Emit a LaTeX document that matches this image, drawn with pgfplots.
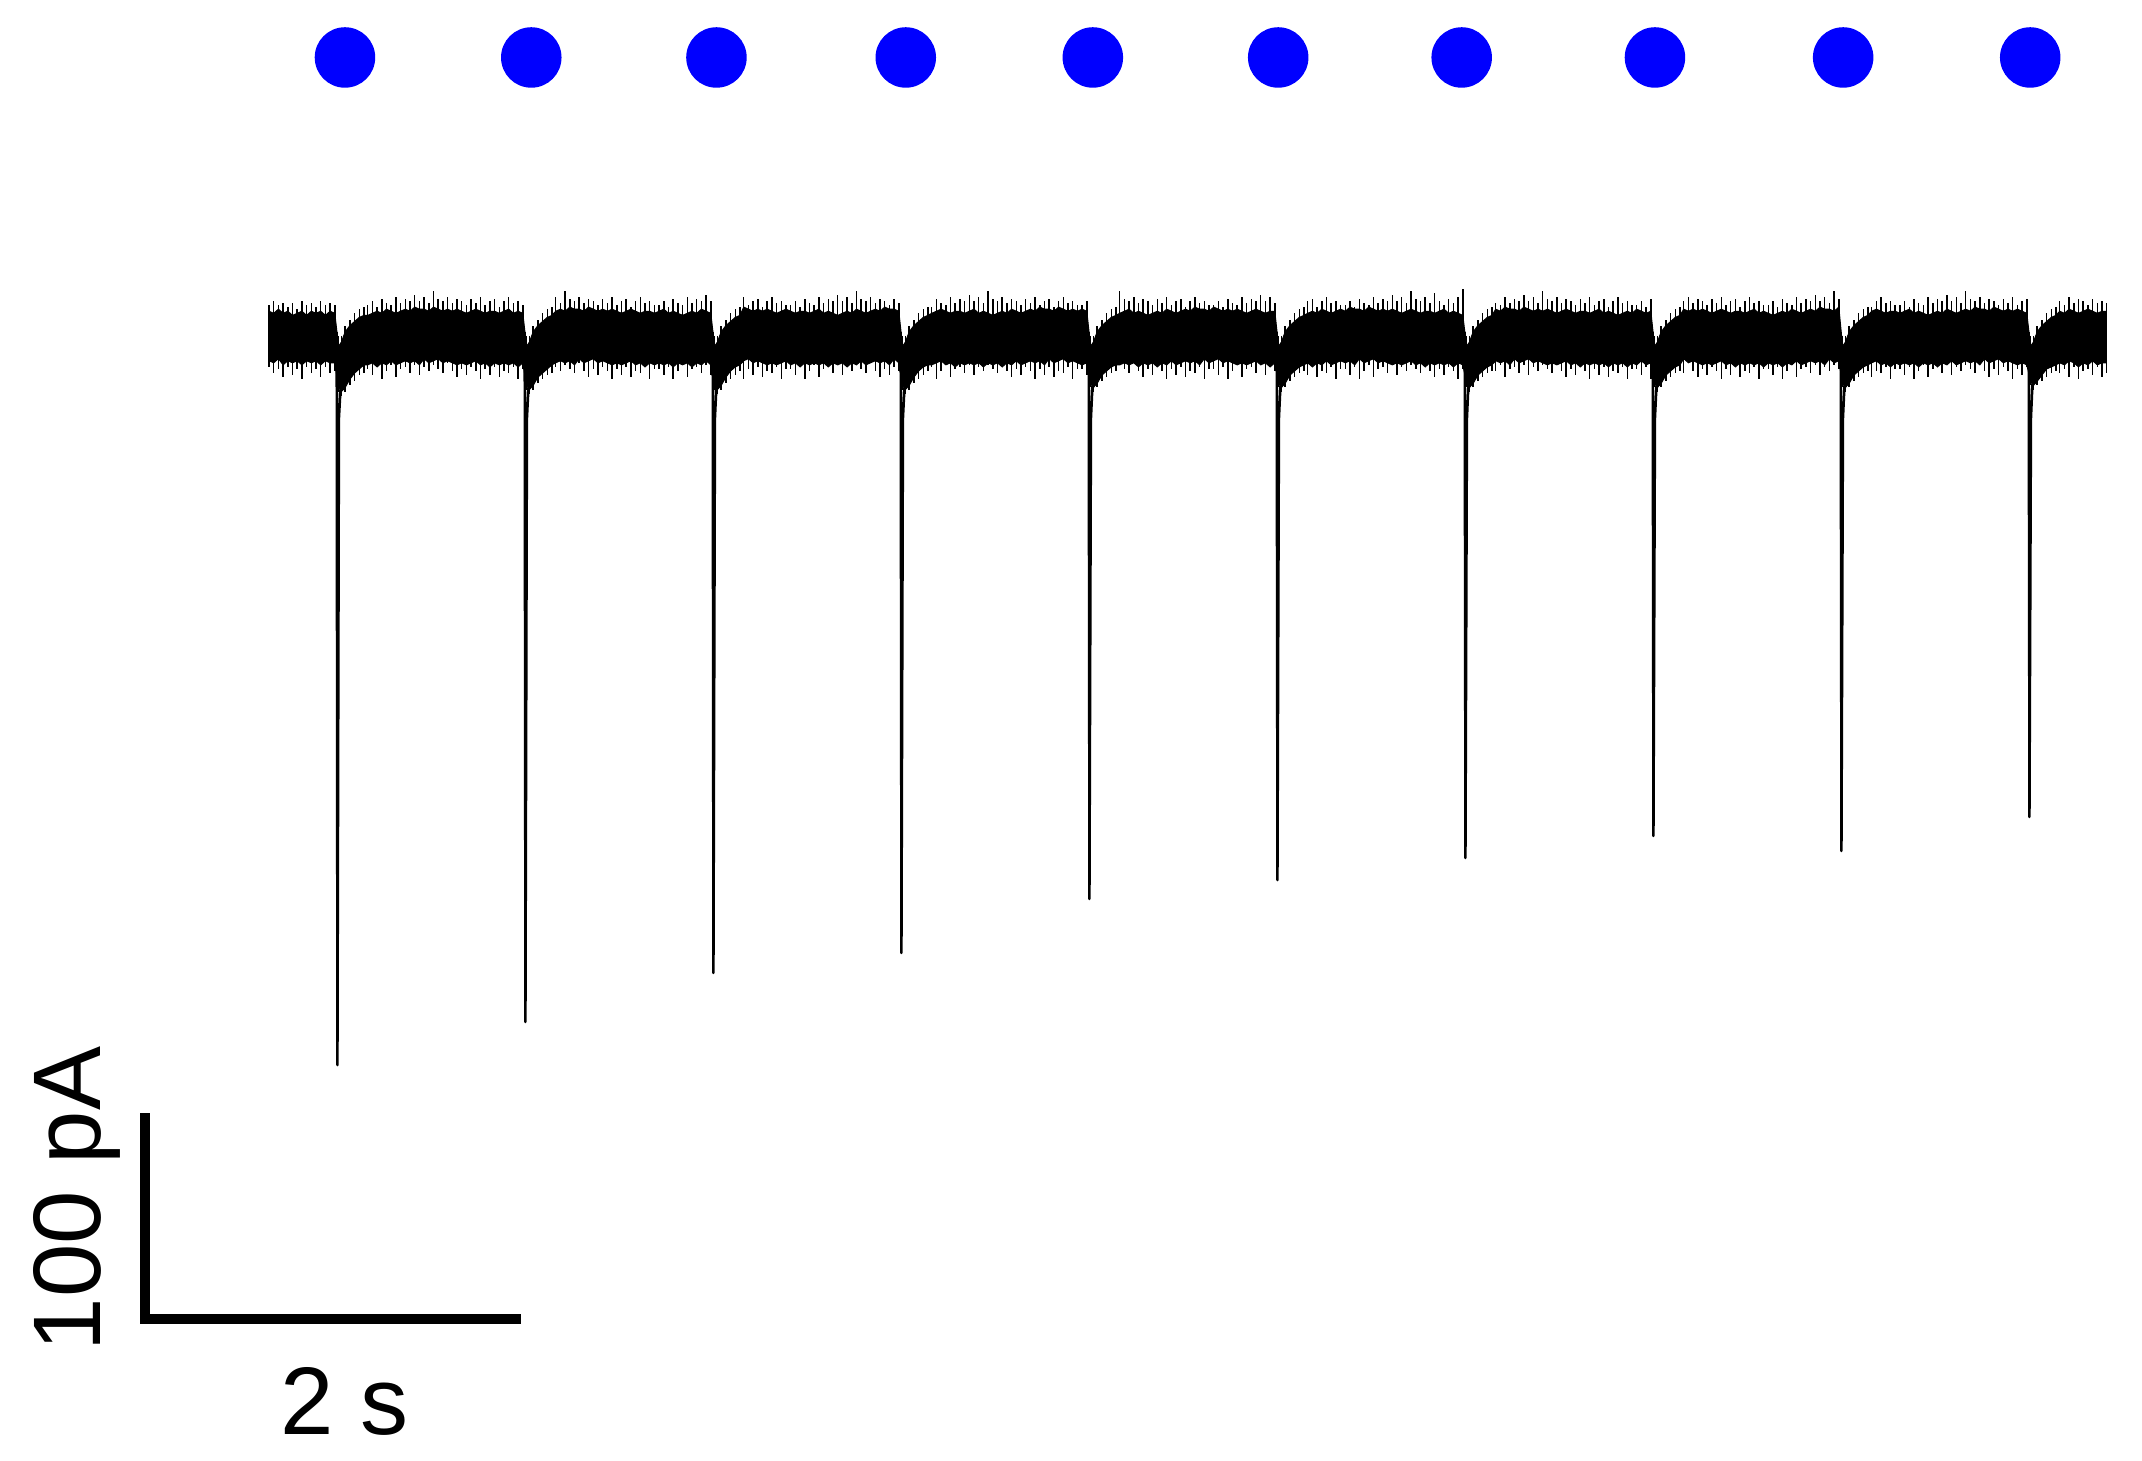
\documentclass[border=0pt]{standalone}
\usepackage{pgfplots}
\usepackage{pgfplotstable}
\usepgfplotslibrary{fillbetween}
\pgfplotsset{compat=1.18}
\usepackage{fontspec}
\setmainfont{Liberation Sans}
\definecolor{dotblue}{RGB}{0,0,255}

% recorded current: t (s); dense band upper/lower edge u, l (pA); noise needles n, m (pA)
\pgfplotstableread{
t u l n m
0.000 12 -12 15 -15
0.025 11 -13 17 -18
0.050 13 -11 15 -16
0.075 11 -14 16 -20
0.100 12 -12 14 -15
0.125 10 -13 16 -19
0.150 11 -12 13 -16
0.175 12 -14 17 -21
0.200 10 -12 15 -15
0.225 12 -13 16 -18
0.250 11 -12 14 -16
0.275 12 -14 17 -20
0.300 10 -12 15 -15
0.325 12 -13 16 -18
0.350 11 -13 15 -17
0.370 -5 -25 -3 -27
0.385 -3 -27 0 -29
0.405 2 -25 5 -27
0.430 5 -21 8 -24
0.455 7 -18 11 -22
0.480 9 -16 13 -19
0.505 10 -14 14 -18
0.525 10 -14 15 -16
0.550 11 -13 17 -19
0.575 12 -15 14 -15
0.600 11 -13 18 -21
0.625 13 -14 16 -17
0.650 12 -12 15 -14
0.675 11 -14 19 -20
0.700 12 -13 16 -16
0.725 13 -12 18 -15
0.750 12 -13 17 -18
0.775 14 -12 20 -14
0.800 13 -14 17 -19
0.825 13 -11 19 -15
0.850 12 -13 16 -17
0.875 14 -12 22 -14
0.900 13 -11 18 -16
0.925 12 -13 17 -18
0.950 13 -12 19 -13
0.975 12 -13 16 -17
1.000 13 -14 18 -20
1.025 12 -13 17 -16
1.050 11 -14 15 -19
1.075 12 -13 18 -15
1.100 13 -12 16 -17
1.125 12 -14 19 -21
1.150 11 -13 15 -16
1.175 12 -15 17 -19
1.200 12 -13 18 -15
1.225 11 -14 14 -20
1.250 12 -13 17 -17
1.275 13 -14 19 -18
1.300 11 -13 16 -15
1.325 12 -15 17 -21
1.350 11 -13 15 -16
1.370 -5 -24 -3 -26
1.385 -3 -26 0 -28
1.405 2 -24 5 -26
1.430 5 -20 8 -23
1.455 7 -18 11 -21
1.480 9 -16 13 -19
1.505 10 -14 14 -18
1.525 12 -13 19 -15
1.550 13 -12 16 -17
1.575 12 -13 22 -14
1.600 14 -12 18 -16
1.625 13 -14 17 -18
1.650 13 -11 19 -13
1.675 12 -13 16 -17
1.700 14 -12 18 -20
1.725 13 -11 17 -16
1.750 12 -13 15 -19
1.775 13 -12 18 -15
1.800 12 -13 16 -17
1.825 13 -14 19 -21
1.850 12 -13 15 -16
1.875 11 -14 17 -19
1.900 12 -13 18 -15
1.925 13 -12 14 -20
1.950 12 -14 17 -17
1.975 11 -13 19 -18
2.000 12 -15 16 -15
2.025 12 -13 17 -21
2.050 11 -14 15 -16
2.075 12 -13 15 -16
2.100 13 -14 17 -19
2.125 11 -13 14 -15
2.150 12 -15 18 -21
2.175 11 -13 16 -17
2.200 10 -14 15 -14
2.225 11 -13 19 -20
2.250 12 -15 16 -16
2.275 11 -13 18 -15
2.300 13 -14 17 -18
2.325 12 -12 20 -14
2.350 11 -14 17 -19
2.370 -5 -24 -3 -26
2.385 -3 -26 0 -28
2.405 2 -24 5 -26
2.430 5 -20 8 -23
2.455 7 -17 11 -21
2.480 9 -15 13 -19
2.505 10 -14 14 -17
2.525 14 -12 19 -21
2.550 13 -11 15 -16
2.575 12 -13 17 -19
2.600 13 -12 18 -15
2.625 12 -13 14 -20
2.650 13 -14 17 -17
2.675 12 -13 19 -18
2.700 11 -14 16 -15
2.725 12 -13 17 -21
2.750 13 -12 15 -16
2.775 12 -14 15 -16
2.800 11 -13 17 -19
2.825 12 -15 14 -15
2.850 12 -13 18 -21
2.875 11 -14 16 -17
2.900 12 -13 15 -14
2.925 13 -14 19 -20
2.950 11 -13 16 -16
2.975 12 -15 18 -15
3.000 11 -13 17 -18
3.025 10 -14 20 -14
3.050 11 -13 17 -19
3.075 12 -15 19 -15
3.100 11 -13 16 -17
3.125 13 -14 22 -14
3.150 12 -12 18 -16
3.175 11 -14 17 -18
3.200 12 -13 19 -13
3.225 13 -12 16 -17
3.250 12 -13 18 -20
3.275 14 -12 17 -16
3.300 13 -14 15 -19
3.325 13 -11 18 -15
3.350 12 -13 16 -17
3.370 -5 -24 -3 -26
3.385 -3 -26 0 -28
3.405 2 -24 5 -26
3.430 5 -20 8 -23
3.455 7 -17 11 -21
3.480 9 -15 13 -19
3.505 10 -14 14 -17
3.525 11 -14 14 -15
3.550 12 -13 18 -21
3.575 13 -12 16 -17
3.600 12 -14 15 -14
3.625 11 -13 19 -20
3.650 12 -15 16 -16
3.675 12 -13 18 -15
3.700 11 -14 17 -18
3.725 12 -13 20 -14
3.750 13 -14 17 -19
3.775 11 -13 19 -15
3.800 12 -15 16 -17
3.825 11 -13 22 -14
3.850 10 -14 18 -16
3.875 11 -13 17 -18
3.900 12 -15 19 -13
3.925 11 -13 16 -17
3.950 13 -14 18 -20
3.975 12 -12 17 -16
4.000 11 -14 15 -19
4.025 12 -13 18 -15
4.050 13 -12 16 -17
4.075 12 -13 19 -21
4.100 14 -12 15 -16
4.125 13 -14 17 -19
4.150 13 -11 18 -15
4.175 12 -13 14 -20
4.200 14 -12 17 -17
4.225 13 -11 19 -18
4.250 12 -13 16 -15
4.275 13 -12 17 -21
4.300 12 -13 15 -16
4.325 13 -14 15 -16
4.350 12 -13 17 -19
4.370 -5 -23 -3 -25
4.385 -3 -25 0 -27
4.405 2 -23 5 -25
4.430 5 -19 8 -22
4.455 7 -17 11 -20
4.480 9 -15 13 -18
4.505 10 -14 14 -17
4.525 11 -14 22 -14
4.550 12 -13 18 -16
4.575 13 -14 17 -18
4.600 11 -13 19 -13
4.625 12 -15 16 -17
4.650 11 -13 18 -20
4.675 10 -14 17 -16
4.700 11 -13 15 -19
4.725 12 -15 18 -15
4.750 11 -13 16 -17
4.775 13 -14 19 -21
4.800 12 -12 15 -16
4.825 11 -14 17 -19
4.850 12 -13 18 -15
4.875 13 -12 14 -20
4.900 12 -13 17 -17
4.925 14 -12 19 -18
4.950 13 -14 16 -15
4.975 13 -11 17 -21
5.000 12 -13 15 -16
5.025 14 -12 15 -16
5.050 13 -11 17 -19
5.075 12 -13 14 -15
5.100 13 -12 18 -21
5.125 12 -13 16 -17
5.150 13 -14 15 -14
5.175 12 -13 19 -20
5.200 11 -14 16 -16
5.225 12 -13 18 -15
5.250 13 -12 17 -18
5.275 12 -14 20 -14
5.300 11 -13 17 -19
5.325 12 -15 19 -15
5.350 12 -13 16 -17
5.370 -5 -23 -3 -25
5.385 -3 -25 0 -27
5.405 2 -23 5 -25
5.430 5 -19 8 -22
5.455 7 -17 11 -20
5.480 9 -15 13 -18
5.505 10 -14 14 -17
5.525 11 -13 17 -19
5.550 12 -15 18 -15
5.575 11 -13 14 -20
5.600 13 -14 17 -17
5.625 12 -12 19 -18
5.650 11 -14 16 -15
5.675 12 -13 17 -21
5.700 13 -12 15 -16
5.725 12 -13 15 -16
5.750 14 -12 17 -19
5.775 13 -14 14 -15
5.800 13 -11 18 -21
5.825 12 -13 16 -17
5.850 14 -12 15 -14
5.875 13 -11 19 -20
5.900 12 -13 16 -16
5.925 13 -12 18 -15
5.950 12 -13 17 -18
5.975 13 -14 20 -14
6.000 12 -13 17 -19
6.025 11 -14 19 -15
6.050 12 -13 16 -17
6.075 13 -12 22 -14
6.100 12 -14 18 -16
6.125 11 -13 17 -18
6.150 12 -15 19 -13
6.175 12 -13 16 -17
6.200 11 -14 21 -20
6.225 12 -13 17 -16
6.250 13 -14 15 -19
6.275 11 -13 18 -15
6.300 12 -15 16 -17
6.325 11 -13 19 -21
6.350 10 -14 23 -16
6.370 -5 -23 -3 -25
6.385 -3 -25 0 -27
6.405 2 -23 5 -25
6.430 5 -19 8 -22
6.455 7 -17 11 -20
6.480 9 -15 13 -18
6.505 10 -14 14 -17
6.525 13 -12 16 -17
6.550 12 -13 15 -14
6.575 14 -12 19 -20
6.600 13 -14 16 -16
6.625 13 -11 18 -15
6.650 12 -13 17 -18
6.675 14 -12 20 -14
6.700 13 -11 17 -19
6.725 12 -13 19 -15
6.750 13 -12 16 -17
6.775 12 -13 22 -14
6.800 13 -14 18 -16
6.825 12 -13 17 -18
6.850 11 -14 19 -13
6.875 12 -13 16 -17
6.900 13 -12 18 -20
6.925 12 -14 17 -16
6.950 11 -13 15 -19
6.975 12 -15 18 -15
7.000 12 -13 16 -17
7.025 11 -14 19 -21
7.050 12 -13 15 -16
7.075 13 -14 17 -19
7.100 11 -13 18 -15
7.125 12 -15 14 -20
7.150 11 -13 17 -17
7.175 10 -14 19 -18
7.200 11 -13 16 -15
7.225 12 -15 17 -21
7.250 11 -13 15 -16
7.275 13 -14 15 -16
7.300 12 -12 17 -19
7.325 11 -14 14 -15
7.350 12 -13 18 -21
7.370 -5 -23 -3 -25
7.385 -3 -25 0 -27
7.405 2 -23 5 -25
7.430 5 -19 8 -22
7.455 7 -17 11 -20
7.480 9 -15 13 -18
7.505 10 -14 14 -17
7.525 13 -11 17 -18
7.550 12 -13 19 -13
7.575 13 -12 16 -17
7.600 12 -13 18 -20
7.625 13 -14 17 -16
7.650 12 -13 15 -19
7.675 11 -14 18 -15
7.700 12 -13 16 -17
7.725 13 -12 19 -21
7.750 12 -14 15 -16
7.775 11 -13 17 -19
7.800 12 -15 18 -15
7.825 12 -13 14 -20
7.850 11 -14 17 -17
7.875 12 -13 19 -18
7.900 13 -14 16 -15
7.925 11 -13 17 -21
7.950 12 -15 15 -16
7.975 11 -13 15 -16
8.000 10 -14 17 -19
8.025 11 -13 14 -15
8.050 12 -15 18 -21
8.075 11 -13 16 -17
8.100 13 -14 15 -14
8.125 12 -12 19 -20
8.150 11 -14 16 -16
8.175 12 -13 18 -15
8.200 13 -12 17 -18
8.225 12 -13 20 -14
8.250 14 -12 17 -19
8.275 13 -14 19 -15
8.300 13 -11 16 -17
8.325 12 -13 22 -14
8.350 14 -12 18 -16
8.370 -5 -23 -3 -25
8.385 -3 -25 0 -27
8.405 2 -23 5 -25
8.430 5 -19 8 -22
8.455 7 -17 11 -20
8.480 9 -15 13 -18
8.505 10 -14 14 -17
8.525 12 -13 14 -20
8.550 13 -12 17 -17
8.575 12 -14 19 -18
8.600 11 -13 16 -15
8.625 12 -15 17 -21
8.650 12 -13 15 -16
8.675 11 -14 15 -16
8.700 12 -13 17 -19
8.725 13 -14 14 -15
8.750 11 -13 18 -21
8.775 12 -15 16 -17
8.800 11 -13 15 -14
8.825 10 -14 19 -20
8.850 11 -13 16 -16
8.875 12 -15 18 -15
8.900 11 -13 17 -18
8.925 13 -14 20 -14
8.950 12 -12 17 -19
8.975 11 -14 19 -15
9.000 12 -13 16 -17
9.025 13 -12 22 -14
9.050 12 -13 18 -16
9.075 14 -12 17 -18
9.100 13 -14 19 -13
9.125 13 -11 16 -17
9.150 12 -13 18 -20
9.175 14 -12 17 -16
9.200 13 -11 15 -19
9.225 12 -13 18 -15
9.250 13 -12 16 -17
9.275 12 -13 19 -21
9.300 13 -14 15 -16
9.325 12 -13 17 -19
9.350 11 -14 18 -15
9.370 -5 -22 -3 -24
9.385 -3 -24 0 -26
9.405 2 -22 5 -24
9.430 5 -19 8 -22
9.455 7 -16 11 -20
9.480 9 -15 13 -18
9.505 10 -14 14 -17
9.525 12 -13 17 -18
9.550 11 -14 15 -16
9.575 13 -12 19 -20
9.600 12 -13 16 -15
9.625 11 -15 18 -21
9.650 12 -13 17 -17
9.675 13 -14 15 -16
9.700 12 -12 18 -19
9.725 11 -14 16 -15
9.750 12 -13 17 -20
9.775 12 -13 16 -18
}\trace

\begin{document}
\begin{tikzpicture}
\begin{axis}[
  scale only axis, width=428.4pt, height=292pt,
  xmin=-1.4309, xmax=9.9628, ymin=-545.63, ymax=163.11,
  hide axis, clip=false,
]
\path (rel axis cs:0,0) rectangle (rel axis cs:1,1);

% dense noise band
\addplot[black, line width=0.2pt, name path=U] table[x=t, y=u] {\trace};
\addplot[black, line width=0.2pt, name path=L] table[x=t, y=l] {\trace};
\addplot[black] fill between[of=U and L];
% noise needles
\addplot[ycomb, black, line width=0.3pt, mark=none] table[x=t, y=n] {\trace};
\addplot[ycomb, black, line width=0.3pt, mark=none] table[x=t, y=m] {\trace};

% evoked currents
\addplot[black, line width=0.5pt, line join=round] coordinates {(0.360,2) (0.364,-353.9) (0.372,-40) (0.380,-26)};
\addplot[black, line width=0.5pt, line join=round] coordinates {(1.360,2) (1.364,-333.0) (1.372,-40) (1.380,-25)};
\addplot[black, line width=0.5pt, line join=round] coordinates {(2.360,2) (2.364,-309.2) (2.372,-40) (2.380,-24)};
\addplot[black, line width=0.5pt, line join=round] coordinates {(3.360,2) (3.364,-299.5) (3.372,-40) (3.380,-25)};
\addplot[black, line width=0.5pt, line join=round] coordinates {(4.360,2) (4.364,-273.3) (4.372,-40) (4.380,-24)};
\addplot[black, line width=0.5pt, line join=round] coordinates {(5.360,2) (5.364,-264.1) (5.372,-40) (5.380,-24)};
\addplot[black, line width=0.5pt, line join=round] coordinates {(6.360,2) (6.364,-253.4) (6.372,-40) (6.380,-23)};
\addplot[black, line width=0.5pt, line join=round] coordinates {(7.360,2) (7.364,-242.7) (7.372,-40) (7.380,-24)};
\addplot[black, line width=0.5pt, line join=round] coordinates {(8.360,2) (8.364,-250.0) (8.372,-40) (8.380,-24)};
\addplot[black, line width=0.5pt, line join=round] coordinates {(9.360,2) (9.364,-233.5) (9.372,-40) (9.380,-23)};

% light stimuli
\addplot[only marks, mark=*, mark size=5.85pt, draw=dotblue, fill=dotblue]
  coordinates {(0.404,135.2) (1.395,135.2) (2.380,135.2) (3.387,135.2) (4.382,135.2)
               (5.368,135.2) (6.344,135.2) (7.372,135.2) (8.373,135.2) (9.368,135.2)};

% scale bar
\addplot[black, line width=2pt, line join=miter] coordinates {(-0.6596,-377.2) (-0.6596,-477.2) (1.338,-477.2)};
\node[rotate=90, anchor=base, inner sep=0pt, font=\fontsize{19.2}{23}\selectfont] at (axis cs:-0.899,-418.9) {100 pA};
\node[anchor=base, inner sep=0pt, font=\fontsize{19.2}{23}\selectfont] at (axis cs:0.404,-533.0) {2 s};
\end{axis}
\end{tikzpicture}
\end{document}
